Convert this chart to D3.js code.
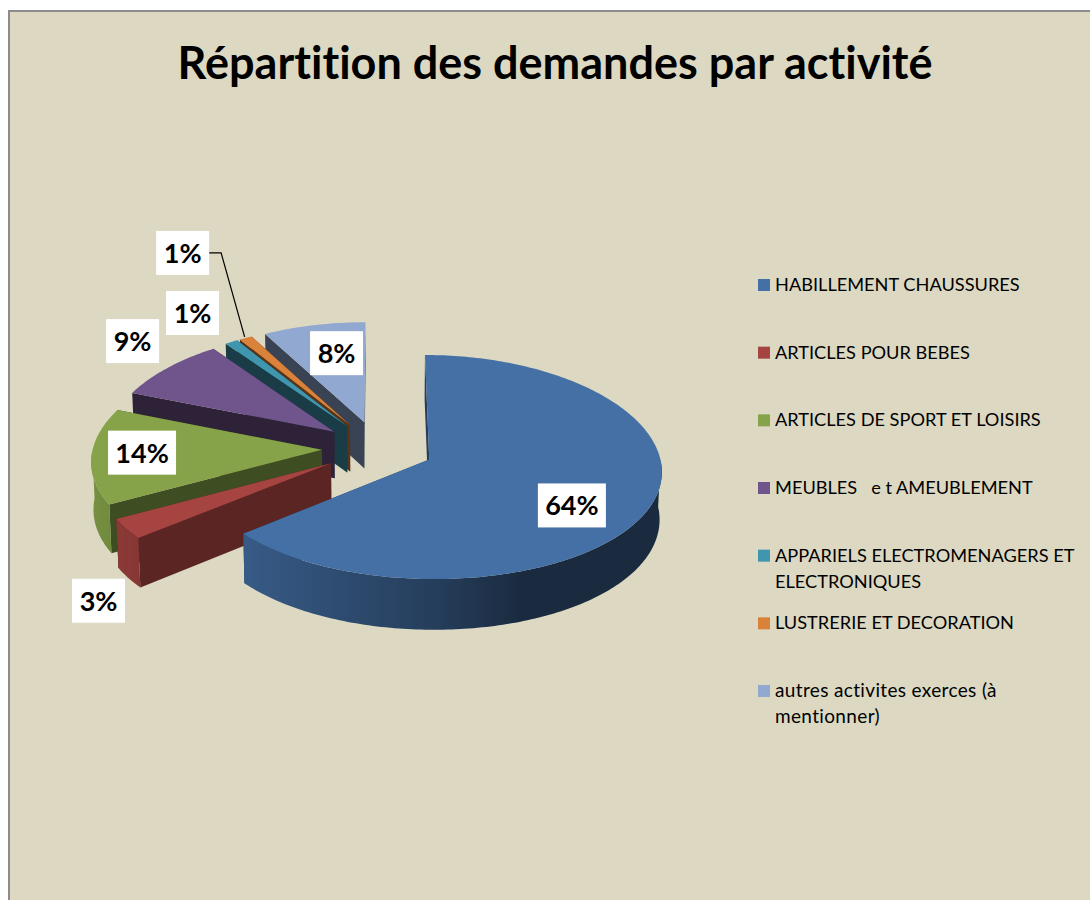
<!DOCTYPE html>
<html>
<head>
<meta charset="utf-8">
<script src="https://cdn.jsdelivr.net/npm/d3@7"></script>
<style>
    html, body { margin: 0; padding: 0; background: #ffffff; overflow: hidden; }
    svg { display: block; font-family: Lato, sans-serif; font-variant-ligatures: none; }
</style>
</head>
<body>
<div id="chart"></div>
<script>
// Chart values
const chartTitle = "Répartition des demandes par activité";
const categories = [
    "HABILLEMENT CHAUSSURES",
    "ARTICLES POUR BEBES",
    "ARTICLES DE SPORT ET LOISIRS",
    "MEUBLES   e t AMEUBLEMENT",
    "APPARIELS ELECTROMENAGERS ET|ELECTRONIQUES",
    "LUSTRERIE ET DECORATION",
    "autres activites exerces (à|mentionner)"
];
const values = [64, 3, 14, 9, 1, 1, 8];
const colors = ["#4470a6", "#a54440", "#87a349", "#70548c", "#3f96ae", "#da813a", "#91a8d0"];

// Labels were dragged by hand in the original, so keep an offset from the rim for each one
const labelNudge = [[-77, -3], [-27.8, 72], [50.6, -4], [-34.6, -27], [-38.8, -29], [-63, -85], [22.5, 28]];

const width = 1090, height = 900;

// Fake 3D: ground plane coords (radius = 1) projected with a bit of perspective
const center = { x: 378, y: 448 };
const rx = 229, ry = 110, perspX = 0.09, perspY = 0.0663;
const explode = 0.245, depth = 47, depthShrink = 0.992;

function project(gu, gv) {
    const s = 1 / (1 - perspY * gv);
    return { x: center.x + rx * gu / (1 - perspX * gv), y: center.y + ry * gv * s, s: s };
}

function dropDown(p) {
    return { x: center.x + (p.x - center.x) * depthShrink, y: p.y + depth * p.s };
}

// Point on a slice: angle clockwise from 12 o'clock, r is the radius fraction
function slicePoint(d, angle, r) {
    const mid = (d.startAngle + d.endAngle) / 2;
    return project(
        explode * Math.sin(mid) + r * Math.sin(angle),
        -explode * Math.cos(mid) - r * Math.cos(angle)
    );
}

const pathLine = d3.line().x(p => p.x).y(p => p.y);
const step = Math.PI / 180;

// Side shading follows the direction the surface faces, lit from the left
const rimShade = d3.scaleLinear().domain([-1, 0, 0.35, 1]).range([0.89, 0.55, 0.38, 0.38]);
const wallShade = d3.scaleLinear()
    .domain([230, 241, 292].map(a => a * step))
    .range([0.55, 0.47, 0.4])
    .clamp(true);

function shade(color, k) {
    const c = d3.rgb(color);
    return d3.rgb(c.r * k, c.g * k, c.b * k).formatHex();
}

const svg = d3.select("#chart")
    .append("svg")
    .attr("width", width)
    .attr("height", height);

const defs = svg.append("defs");

svg.append("rect")
    .attr("x", 9)
    .attr("y", 11)
    .attr("width", width + 20)
    .attr("height", height + 20)
    .attr("fill", "#dcd8c2")
    .attr("stroke", "#8c8c8c")
    .attr("stroke-width", 2);

svg.append("text")
    .attr("x", 555)
    .attr("y", 79)
    .attr("text-anchor", "middle")
    .attr("font-size", 45)
    .attr("font-weight", 700)
    .attr("fill", "#000000")
    .text(chartTitle);

const arcs = d3.pie().sort(null).startAngle(0).endAngle(2 * Math.PI)(values);

// Painter's order: the back slice first, the big front one last
const slices = svg.append("g")
    .selectAll("g")
    .data(arcs.slice().reverse())
    .enter()
    .append("g");

slices.each(function(d) {
    const g = d3.select(this);
    const color = colors[d.index];

    const angles = d3.range(d.startAngle, d.endAngle, step).concat(d.endAngle);

    // Flat walls, end one then start one
    const apex = slicePoint(d, d.startAngle, 0);
    [d.endAngle, d.startAngle].forEach(angle => {
        const outer = slicePoint(d, angle, 1);
        g.append("path")
            .attr("d", pathLine([apex, outer, dropDown(outer), dropDown(apex)]) + "Z")
            .attr("fill", shade(color, wallShade(angle)));
    });

    // Outer rim, only the part that faces the viewer, shaded through a gradient along x
    const rimAngles = angles.filter(a => a >= Math.PI / 2 && a <= 1.5 * Math.PI);
    if (rimAngles.length > 1) {
        const rim = rimAngles.map(a => slicePoint(d, a, 1));
        const x0 = rim[0].x, x1 = rim[rim.length - 1].x;
        const grad = defs.append("linearGradient")
            .attr("id", "rim-" + d.index)
            .attr("gradientUnits", "userSpaceOnUse")
            .attr("x1", x0)
            .attr("y1", 0)
            .attr("x2", x1)
            .attr("y2", 0);
        grad.selectAll("stop")
            .data(rimAngles)
            .enter()
            .append("stop")
            .attr("offset", (a, i) => (rim[i].x - x0) / (x1 - x0))
            .attr("stop-color", a => shade(color, rimShade(Math.sin(a))));
        g.append("path")
            .attr("d", pathLine(rim.concat(rim.map(dropDown).reverse())) + "Z")
            .attr("fill", `url(#rim-${d.index})`);
    }

    // Top face
    const top = [apex].concat(angles.map(a => slicePoint(d, a, 1)));
    g.append("path")
        .attr("d", pathLine(top) + "Z")
        .attr("fill", color);
});

// Data labels on white boxes
const labelH = 44;

function labelCenter(d) {
    const rim = slicePoint(d, (d.startAngle + d.endAngle) / 2, 1);
    const nudge = labelNudge[d.index];
    return { x: rim.x + nudge[0], y: rim.y + nudge[1] };
}

function labelWidth(d) {
    return d.value >= 10 ? 68 : 53;
}

// Leader line of the tiny orange slice
const leaderSlice = arcs[5];
const leaderBox = labelCenter(leaderSlice);
const leaderEnd = slicePoint(leaderSlice, (leaderSlice.startAngle + leaderSlice.endAngle) / 2, 1);
const leaderStart = { x: leaderBox.x + labelWidth(leaderSlice) / 2, y: leaderBox.y };
svg.append("path")
    .attr("d", pathLine([
        leaderStart,
        { x: leaderStart.x + 12, y: leaderStart.y },
        { x: leaderEnd.x - 1, y: leaderEnd.y - 1 }
    ]))
    .attr("fill", "none")
    .attr("stroke", "#000000")
    .attr("stroke-width", 1.2);

const labels = svg.append("g")
    .selectAll("g")
    .data(arcs)
    .enter()
    .append("g")
    .attr("transform", d => {
        const c = labelCenter(d);
        return `translate(${c.x},${c.y})`;
    });

labels.append("rect")
    .attr("x", d => -labelWidth(d) / 2)
    .attr("y", -labelH / 2)
    .attr("width", d => labelWidth(d))
    .attr("height", labelH)
    .attr("fill", "#ffffff");

labels.append("text")
    .attr("text-anchor", "middle")
    .attr("y", 10)
    .attr("font-size", 27)
    .attr("font-weight", 700)
    .attr("fill", "#000000")
    .text(d => d.value + "%");

// Legend
const legendY = d3.scalePoint().domain(categories).range([285, 691]);

const legend = svg.append("g")
    .selectAll("g")
    .data(categories)
    .enter()
    .append("g")
    .attr("transform", d => `translate(758,${legendY(d)})`);

legend.append("rect")
    .attr("x", 0)
    .attr("y", -6)
    .attr("width", 12)
    .attr("height", 12)
    .attr("fill", (d, i) => colors[i]);

// Lowercase runs narrow in Lato compared to the original font, so open them up a bit
const isLower = d => /[a-z]{3}/.test(d);

legend.selectAll("text")
    .data(d => d.split("|"))
    .enter()
    .append("text")
    .attr("x", 17)
    .attr("y", (d, i) => 6 + i * 26)
    .attr("font-size", d => isLower(d) ? 19 : 18.2)
    .attr("letter-spacing", d => isLower(d) ? 0.35 : 0)
    .attr("fill", "#000000")
    .style("white-space", "pre")
    .text(d => d);
</script>
</body>
</html>
